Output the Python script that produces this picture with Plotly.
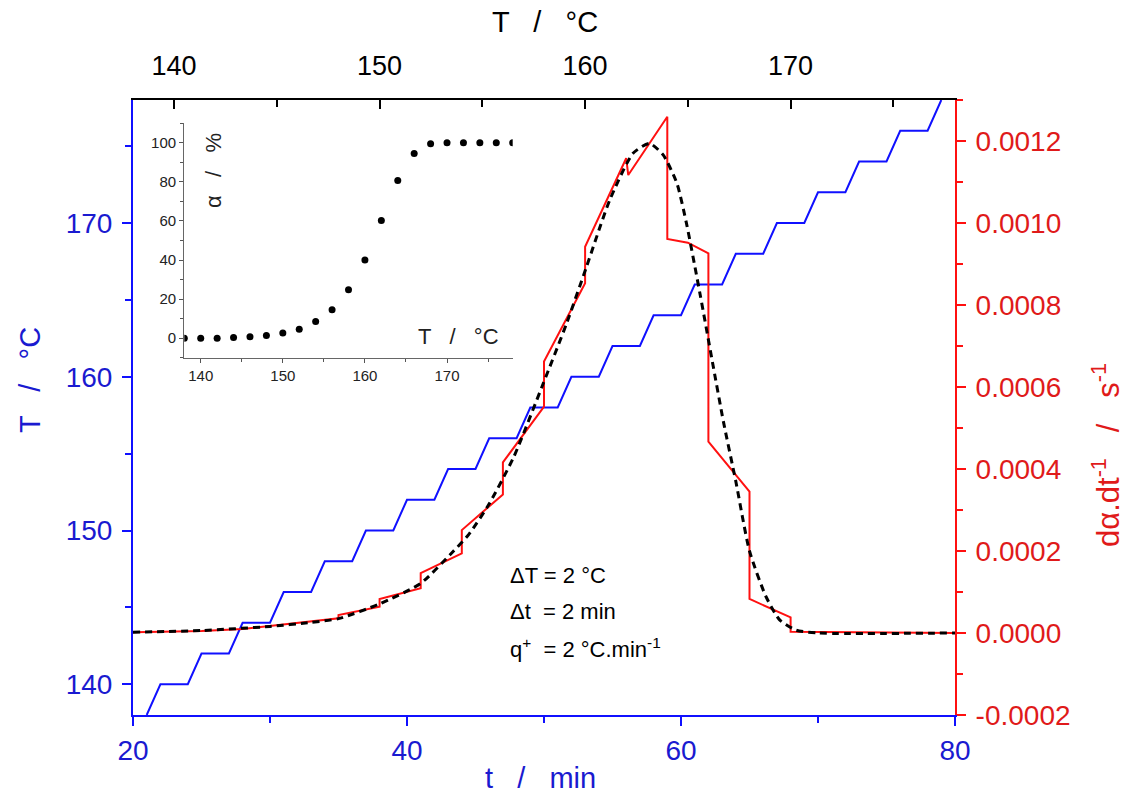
import plotly.graph_objects as go

# ---------------- data ----------------
# blue staircase: temperature programme T(t)
t_T = [21, 22, 24, 25, 27, 28, 30, 31, 33, 34, 36, 37, 39, 40, 42, 43, 45, 46, 48, 49, 51,
       52, 54, 55, 57, 58, 60, 61, 63, 64, 66, 67, 69, 70, 72, 73, 75, 76, 78, 79]
T_prog = [138, 140, 140, 142, 142, 144, 144, 146, 146, 148, 148, 150, 150, 152, 152, 154, 154,
          156, 156, 158, 158, 160, 160, 162, 162, 164, 164, 166, 166, 168, 168, 170, 170, 172,
          172, 174, 174, 176, 176, 178]

# red stepwise rate curve
t_rate = [20, 25, 28, 30, 32, 35, 35, 38, 38, 41, 41, 44, 44, 47, 47, 50, 50, 53, 53,
          56, 56.15, 59, 59, 60.5, 62, 62, 65, 65, 68, 68, 80]
rate = [0.000002, 0.000005, 0.000010, 0.000017, 0.000025, 0.000036, 0.000044, 0.000064,
        0.000083, 0.000109, 0.000146, 0.000194, 0.000251, 0.000338, 0.000416, 0.000552,
        0.000662, 0.000853, 0.000942, 0.001158, 0.001117, 0.001259, 0.000961, 0.000952,
        0.000926, 0.000467, 0.000345, 0.000083, 0.000038, 0.000003, 0.000000]

# black dashed fitted rate curve
t_fit = [20, 25, 30, 33, 35, 38, 41, 43.4, 44.5, 46, 47.8, 49.95, 51.65, 53.1, 54.8, 56.5,
         57.7, 58.7, 59.7, 60.4, 61.4, 62.3, 63.1, 64.0, 65.0, 66.2, 67.2, 68.4, 70, 80]
rate_fit = [0.000002, 0.000006, 0.000016, 0.000026, 0.000035, 0.000071, 0.000121, 0.000200,
            0.000240, 0.000315, 0.000430, 0.000609, 0.000755, 0.000893, 0.001056, 0.001170,
            0.001194, 0.001166, 0.001097, 0.000999, 0.000825, 0.000660, 0.000515, 0.000370,
            0.000200, 0.000089, 0.000032, 0.000007, 0.0, 0.0]

# inset: conversion vs temperature
T_inset = [138, 140, 142, 144, 146, 148, 150, 152, 154, 156, 158, 160, 162, 164, 166, 168,
           170, 172, 174, 176, 178]
alpha_inset = [0, 0, 0, 0.3, 0.7, 1.4, 2.6, 4.6, 8.5, 14.5, 24.8, 40, 60.2, 80.7, 94.5, 99.5,
               100, 100, 100, 100, 100]

x_ticks = [20, 40, 60, 80]
T_ticks = [140, 150, 160, 170]
rate_ticks = [-0.0002, 0.0, 0.0002, 0.0004, 0.0006, 0.0008, 0.0010, 0.0012]
rate_labels = ["-0.0002", "0.0000", "0.0002", "0.0004", "0.0006", "0.0008", "0.0010", "0.0012"]
inset_x_ticks = [140, 150, 160, 170]
inset_y_ticks = [0, 20, 40, 60, 80, 100]

# ---------------- style ----------------
FONT = "Liberation Sans, Arial, sans-serif"
BLUE = "#1010ff"
BLUE_TXT = "#1a1ad0"
RED = "#ff1010"
RED_TXT = "#e01a1a"

L, R, TOP, BOT = 133, 955, 100, 715
W, H = 1131, 802


def px(x):
    return (x - L) / (R - L)


def py(y):
    return (BOT - y) / (BOT - TOP)


fig = go.Figure()

fig.add_trace(go.Scatter(x=t_T, y=T_prog, mode="lines", line=dict(color=BLUE, width=2),
                         xaxis="x", yaxis="y", showlegend=False, hoverinfo="skip"))
fig.add_trace(go.Scatter(x=t_rate, y=rate, mode="lines", line=dict(color=RED, width=2),
                         xaxis="x", yaxis="y2", showlegend=False))
fig.add_trace(go.Scatter(x=t_fit, y=rate_fit, mode="lines",
                         line=dict(color="black", width=3, dash="7px,5px", shape="spline",
                                   smoothing=0.6),
                         xaxis="x", yaxis="y2", showlegend=False))
# invisible trace to anchor top temperature axis
fig.add_trace(go.Scatter(x=[T_ticks[0]], y=[T_ticks[0]], mode="markers",
                         marker=dict(opacity=0), xaxis="x2", yaxis="y",
                         showlegend=False, hoverinfo="skip"))
# inset
fig.add_trace(go.Scatter(x=T_inset, y=alpha_inset, mode="markers",
                         marker=dict(color="black", size=7), xaxis="x3", yaxis="y3",
                         showlegend=False))

tickfont_blue = dict(family=FONT, size=28, color=BLUE_TXT)
tickfont_red = dict(family=FONT, size=28, color=RED_TXT)

fig.update_layout(
    width=W, height=H,
    margin=dict(l=L, r=W - R, t=TOP, b=H - BOT),
    paper_bgcolor="white", plot_bgcolor="white",
    font=dict(family=FONT),
    xaxis=dict(domain=[0, 1], range=[20, 80], tickvals=x_ticks, ticks="outside", ticklen=9,
               tickwidth=2, tickcolor=BLUE, showline=True, linecolor=BLUE, linewidth=2,
               showgrid=False, zeroline=False, tickfont=tickfont_blue,
               minor=dict(dtick=10, tick0=20, ticks="outside", ticklen=6, tickwidth=2,
                          tickcolor=BLUE),
               anchor="y"),
    xaxis2=dict(overlaying="x", side="top", range=[138, 178], tickvals=T_ticks,
                ticks="inside", ticklen=9, tickwidth=2, tickcolor="black", showline=True,
                linecolor="black", linewidth=2, showgrid=False, zeroline=False,
                tickfont=dict(family=FONT, size=27, color="black"), ticklabelstandoff=12,
                minor=dict(dtick=5, tick0=140, ticks="inside", ticklen=7, tickwidth=2,
                           tickcolor="black"),
                anchor="y"),
    yaxis=dict(range=[138, 178], tickvals=T_ticks, ticks="outside", ticklen=9, tickwidth=2,
               tickcolor=BLUE, showline=True, linecolor=BLUE, linewidth=2, showgrid=False,
               zeroline=False, tickfont=tickfont_blue, ticklabelstandoff=4,
               minor=dict(dtick=5, tick0=140, ticks="outside", ticklen=6, tickwidth=2,
                          tickcolor=BLUE),
               anchor="x"),
    yaxis2=dict(overlaying="y", side="right", range=[-0.0002, 0.0013], tickvals=rate_ticks,
                ticktext=rate_labels, ticks="outside", ticklen=9, tickwidth=2, tickcolor=RED,
                showline=True, linecolor=RED, linewidth=2, showgrid=False, zeroline=False,
                tickfont=tickfont_red, ticklabelstandoff=4,
                minor=dict(dtick=0.0001, tick0=-0.0002, ticks="outside", ticklen=6,
                           tickwidth=2, tickcolor=RED),
                anchor="x"),
    xaxis3=dict(domain=[px(184.3), px(512.7)], range=[138, 178], tickvals=inset_x_ticks,
                ticks="outside", ticklen=4, tickwidth=1, tickcolor="#555", showline=True,
                linecolor="#666", linewidth=1.3, showgrid=False, zeroline=False,
                tickfont=dict(family=FONT, size=15, color="#222"),
                minor=dict(dtick=5, tick0=140, ticks="outside", ticklen=3, tickcolor="#555"),
                anchor="y3"),
    yaxis3=dict(domain=[py(357.7), py(123.3)], range=[-10, 110], tickvals=inset_y_ticks,
                ticks="outside", ticklen=4, tickwidth=1, tickcolor="#555", showline=True,
                linecolor="#666", linewidth=1.3, showgrid=False, zeroline=False,
                tickfont=dict(family=FONT, size=15, color="#222"),
                minor=dict(dtick=10, tick0=0, ticks="outside", ticklen=3, tickcolor="#555"),
                anchor="x3"),
)


def A(xp, yp, text, size, color, angle=0, xanchor="center"):
    return dict(x=px(xp), y=py(yp), text=text, showarrow=False, textangle=angle,
                xanchor=xanchor, yanchor="middle", xref="paper", yref="paper",
                font=dict(family=FONT, size=size, color=color))


ann = [
    A(545, 22, "T   /   °C", 29, "black"),
    A(540, 778, "t   /   min", 29, BLUE_TXT),
    A(30, 380, "T   /   °C", 29, BLUE_TXT, angle=-90),
    A(1106, 455, "dα.dt<sup>-1</sup>   /   s<sup>-1</sup>", 31, RED_TXT, angle=-90),
    A(213, 171, "α   /   %", 22, "#222", angle=-90),
    A(458, 336, "T   /   °C", 22, "#222"),
    A(508, 575, "ΔT = 2 °C", 22, "black", xanchor="left"),
    A(508, 611, "Δt  = 2 min", 22, "black", xanchor="left"),
    A(508, 648, "q<sup>+</sup>  = 2 °C.min<sup>-1</sup>", 22, "black", xanchor="left"),
]
fig.update_layout(annotations=ann)

fig.write_html("out.html")
